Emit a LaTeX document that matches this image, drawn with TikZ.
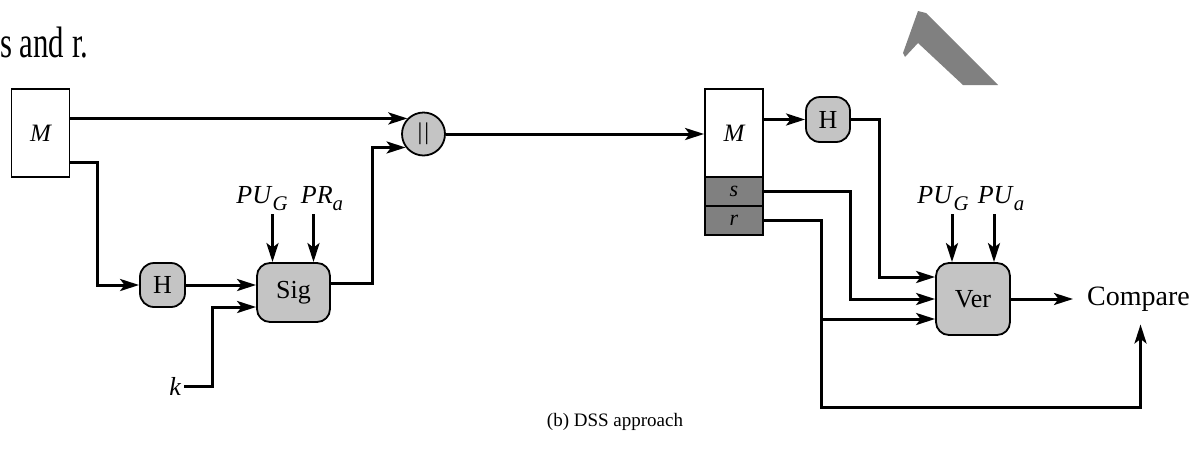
\documentclass[tikz,border=0pt]{standalone}
\usepackage{fontspec}
\setmainfont{Liberation Serif}
\usetikzlibrary{arrows.meta,calc}
\newcommand\lsub[1]{\raisebox{-0.3em}{\scalebox{0.8}{\textit{#1}}}}
\definecolor{boxgray}{HTML}{C4C4C4}
\definecolor{darkgray}{HTML}{808080}
\tikzset{
  x=1pt, y=-1pt,
  conn/.style={line width=3pt, -{Stealth[length=19pt,width=12pt,inset=4.5pt]}},
  msgbox/.style={draw, line width=1.8pt, fill=white, minimum width=58pt, minimum height=88pt, inner sep=0pt, font=\fontsize{25}{28}\selectfont\itshape},
  sigbox/.style={draw, line width=1.8pt, fill=darkgray, minimum width=58pt, minimum height=29pt, inner sep=0pt, font=\fontsize{22}{24}\selectfont\itshape},
  funcbox/.style={draw, line width=1.8pt, fill=boxgray, rounded corners=13pt, inner sep=0pt, font=\fontsize{26}{28}\selectfont},
  keylabel/.style={anchor=base, inner sep=2pt, font=\fontsize{26}{28}\selectfont},
}
\begin{document}
\begin{tikzpicture}
\useasboundingbox (0,0) rectangle (1194,456);
% top text fragment and watermark
\node[anchor=base west, inner sep=0pt, font=\fontsize{44}{46}\selectfont] (frag) at (0,57) {\scalebox{0.7}[1]{s and r.}};
\fill[darkgray] (918,11) -- (926,13) -- (998,85) -- (963,85) -- (918,43) -- (905,57) -- (903,53) -- cycle;

% ---- left: signing ----
\node[msgbox] (M1) at (40.5,133) {M};
\node[draw, line width=1.8pt, fill=boxgray, circle, minimum size=43pt, inner sep=0pt, font=\fontsize{24}{26}\selectfont] (cat) at (423.5,134) {|\kern2pt|};
\node[funcbox, minimum width=45pt, minimum height=44pt, rounded corners=14pt] (H1) at (162.5,285) {H};
\node[funcbox, minimum width=73pt, minimum height=59pt] (Sig) at (293.5,292.5) {Sig};
\node[anchor=east, inner sep=3pt, font=\fontsize{26}{28}\selectfont\itshape] (k) at (184,386) {k};
\node[keylabel] (PUG1) at (262,203) {\textit{PU}\lsub{G}};
\node[keylabel] (PRa) at (322,203) {\textit{PR}\lsub{a}};

\draw[conn] (cat.136 -| M1.east) -- (cat.136);
\draw[conn] ([yshift=-29pt]M1.east) -- ++(27,0) |- (H1.west);
\draw[conn] (H1.east) -- (Sig.west |- H1.east);
\draw[conn] (k.east) -- ++(28,0) |- ([yshift=-14.5pt]Sig.west);
\draw[conn] ([xshift=-21pt]Sig.north |- 0,214) -- ([xshift=-21pt]Sig.north);
\draw[conn] ([xshift=20pt]Sig.north |- 0,214) -- ([xshift=20pt]Sig.north);
\draw[conn] ([yshift=9pt]Sig.east) -- ++(42,0) |- (cat.217);

% ---- right: verifying ----
\node[msgbox] (M2) at (734,133) {M};
\node[sigbox] (s) at (734,191.5) {s};
\node[sigbox] (r) at (734,220.5) {r};
\node[funcbox, minimum width=44pt, minimum height=45pt, rounded corners=14pt] (H2) at (828,119.5) {H};
\node[funcbox, minimum width=74pt, minimum height=72pt] (Ver) at (973,299) {Ver};
\node[anchor=west, inner sep=0pt, font=\fontsize{28}{30}\selectfont] (cmp) at (1087,299) {Compare};
\node[keylabel] (PUG2) at (943,203) {\textit{PU}\lsub{G}};
\node[keylabel] (PUa) at (1001,203) {\textit{PU}\lsub{a}};

\draw[conn] (cat.east) -- (M2.west |- cat.east);
\draw[conn] (M2.east |- H2.west) -- (H2.west);
\draw[conn] (H2.east) -- ++(29,0) |- ([yshift=22pt]Ver.west);
\draw[conn] (s.east) -- ++(87,0) |- (Ver.west);
\coordinate (rj) at ([xshift=58pt]r.east);
\coordinate (vin3) at ([yshift=-20pt]Ver.west);
\draw[conn] (r.east) -- (rj) -- (rj |- 0,407.5) -| ([xshift=2pt,yshift=-13pt]cmp.south);
\draw[conn] (rj |- vin3) -- (vin3);
\draw[conn] ([xshift=-21pt]Ver.north |- 0,214) -- ([xshift=-21pt]Ver.north);
\draw[conn] ([xshift=21pt]Ver.north |- 0,214) -- ([xshift=21pt]Ver.north);
\draw[conn] (Ver.east) -- ([xshift=-14pt]cmp.west);

% caption
\node[inner sep=0pt, font=\fontsize{19}{21}\selectfont] (cap) at (615,422) {(b) DSS approach};
\end{tikzpicture}
\end{document}
